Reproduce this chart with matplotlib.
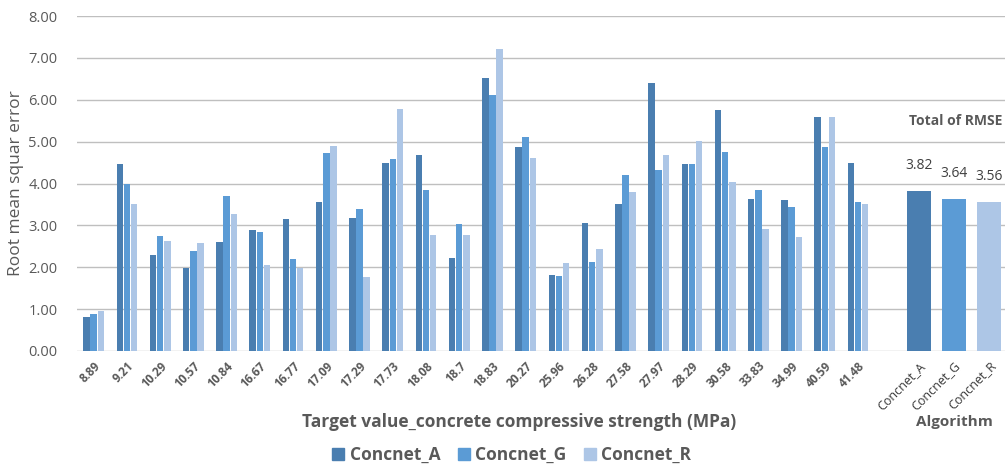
import numpy as np
import matplotlib
matplotlib.use("Agg")
import matplotlib.pyplot as plt
from matplotlib.patches import Patch

plt.rcParams["font.family"] = ["Open Sans", "DejaVu Sans"]

# RMSE per target strength (MPa) for each model
strengths = ["8.89", "9.21", "10.29", "10.57", "10.84", "16.67", "16.77", "17.09",
             "17.29", "17.73", "18.08", "18.7", "18.83", "20.27", "25.96", "26.28",
             "27.58", "27.97", "28.29", "30.58", "33.83", "34.99", "40.59", "41.48"]
rmse_a = [0.82, 4.47, 2.29, 1.99, 2.60, 2.89, 3.15, 3.57, 3.17, 4.48, 4.67, 2.21,
          6.51, 4.87, 1.82, 3.06, 3.51, 6.39, 4.47, 5.75, 3.62, 3.61, 5.58, 4.50]
rmse_g = [0.89, 4.00, 2.75, 2.39, 3.69, 2.84, 2.20, 4.73, 3.38, 4.59, 3.84, 3.03,
          6.12, 5.11, 1.79, 2.13, 4.20, 4.32, 4.46, 4.76, 3.85, 3.44, 4.86, 3.57]
rmse_r = [0.96, 3.50, 2.63, 2.58, 3.27, 2.05, 1.99, 4.90, 1.77, 5.79, 2.78, 2.76,
          7.21, 4.60, 2.11, 2.43, 3.80, 4.67, 5.02, 4.03, 2.91, 2.73, 5.58, 3.50]

models = ["Concnet_A", "Concnet_G", "Concnet_R"]
total_rmse = [3.82, 3.64, 3.56]
colors = ["#4a7eb0", "#5b9bd5", "#adc6e6"]

TXT = "#595959"

fig = plt.figure(figsize=(10.07, 4.68), dpi=100)
ax = fig.add_axes([0.0765, 0.25, 0.9215, 0.7158])

x = np.arange(len(strengths))
w = 0.195
step = 0.215
for k, (vals, c) in enumerate(zip([rmse_a, rmse_g, rmse_r], colors)):
    ax.bar(x + (k - 1) * step, vals, width=w, color=c, edgecolor="none", zorder=3)

# overall RMSE per model, to the right of the per-strength groups
tx = np.array([24.83, 25.88, 26.94])
ax.bar(tx, total_rmse, width=0.72, color=colors, edgecolor="none", zorder=3)
for xi, v in zip(tx, total_rmse):
    ax.annotate(f"{v:.2f}", (xi, v), xytext=(0, 13), textcoords="offset points",
                ha="center", va="bottom", fontsize=10, color="#404040")
ax.text(tx[1] + 0.05, 5.5, "Total of RMSE", ha="center", va="center",
        fontsize=10, fontweight="bold", color=TXT)

ax.set_xlim(-0.5, 27.42)
ax.set_ylim(0, 8)
ax.set_yticks(np.arange(0, 8.01, 1))
ax.set_yticklabels([f"{v:.2f}" for v in np.arange(0, 8.01, 1)])
ax.set_xticks(list(x) + list(tx))
ax.set_xticklabels(strengths + models, rotation=45, ha="right",
                   rotation_mode="anchor", fontsize=8.5, fontweight="bold",
                   color=TXT)
# model names under the totals are set in regular weight
for lbl in ax.get_xticklabels()[len(strengths):]:
    lbl.set_fontweight("normal")
    lbl.set_fontsize(9)
    lbl.set_color("#3a3a3a")
ax.tick_params(axis="both", length=0)
ax.tick_params(axis="y", labelsize=10.5, labelcolor=TXT, pad=14)
ax.tick_params(axis="x", pad=6)
ax.grid(axis="y", color="#bfbfbf", lw=1, zorder=0)
for s in ["top", "right", "left", "bottom"]:
    ax.spines[s].set_visible(False)

ax.set_ylabel("Root mean squar error", fontsize=12.5, color=TXT, labelpad=3)

fig.text(0.516, 0.098, "Target value_concrete compressive strength (MPa)",
         ha="center", va="center", fontsize=12.5, fontweight="bold", color=TXT)
fig.text(0.948, 0.098, "Algorithm", ha="center", va="center",
         fontsize=11, fontweight="bold", color=TXT)

handles = [Patch(color=c) for c in colors]
fig.legend(handles, models, loc="center", bbox_to_anchor=(0.508, 0.028), ncol=3,
           frameon=False, handlelength=0.7, handleheight=0.7,
           handletextpad=0.3, columnspacing=1.0,
           prop={"weight": "bold", "size": 12.5})
for t in fig.legends[0].get_texts():
    t.set_color(TXT)

fig.savefig("out.png", dpi=100)
